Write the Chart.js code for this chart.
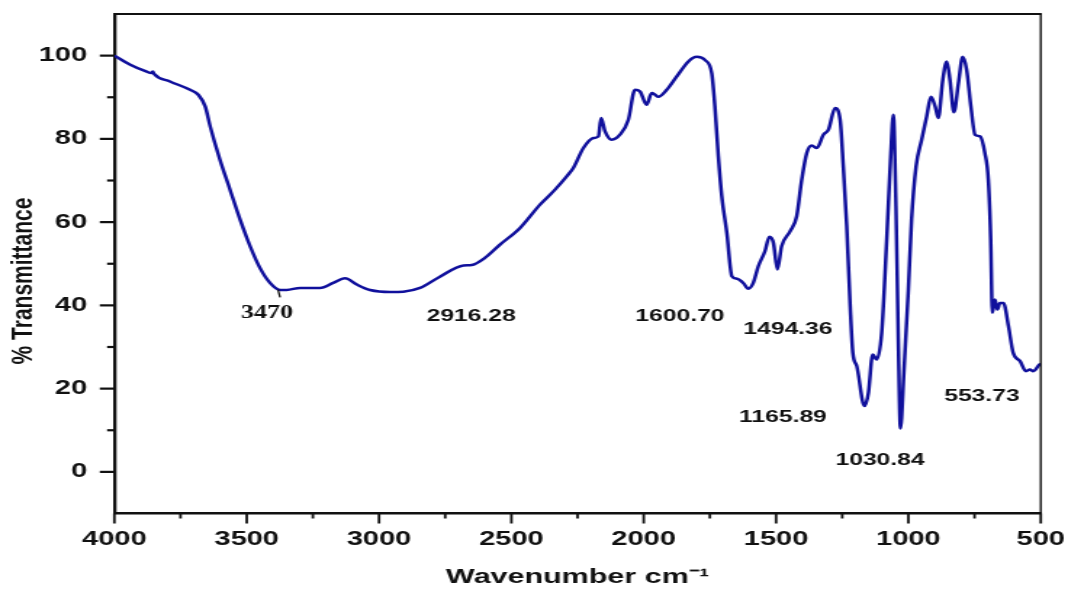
<!DOCTYPE html>
<html>
<head>
<meta charset="utf-8">
<script src="https://cdn.jsdelivr.net/npm/chart.js@4.4.1/dist/chart.umd.min.js"></script>
<style>
    html, body { margin: 0; padding: 0; background: #fff; }
</style>
</head>
<body>
<!-- drawn narrow and widened by css, like the exported figure -->
<canvas id="ftir" width="736" height="589" style="display:block;width:1068px;height:589px"></canvas>
<script>
// FT-IR spectrum, wavenumber (cm-1) against % transmittance
const wavenumbers = [
    4000, 3940, 3880, 3860, 3855, 3850, 3790, 3714, 3683, 3657, 3638, 3601, 3563, 3525, 3487,
    3450, 3412, 3374, 3349, 3298, 3223, 3173, 3128, 3084, 3034, 2958, 2908, 2845, 2770, 2681,
    2650, 2600, 2543, 2467, 2392, 2335, 2291, 2266, 2228, 2190, 2171, 2161, 2146, 2121, 2090,
    2058, 2033, 2014, 1989, 1970, 1957, 1945, 1913, 1875, 1831, 1800, 1768, 1743, 1731, 1718,
    1705, 1686, 1667, 1648, 1624, 1605, 1586, 1567, 1542, 1525, 1510, 1495, 1479, 1447, 1422,
    1403, 1384, 1365, 1346, 1321, 1302, 1277, 1258, 1246, 1233, 1220, 1210, 1195, 1166, 1151,
    1135, 1120, 1101, 1082, 1067, 1057, 1047, 1038, 1030, 1017, 1000, 988, 971, 950, 931,
    915, 899, 887, 870, 855, 843, 828, 811, 795, 780, 764, 748, 729, 711, 698,
    689, 683, 673, 664, 654, 641, 622, 604, 578, 556, 541, 528, 505, 500
];
const transmittance = [
    100, 97.8, 96.2, 95.8, 96.2, 95.6, 93.8, 91.8, 90.6, 87.8, 83.0, 75.0, 67.8, 60.6, 54.2,
    49.0, 45.4, 43.7, 43.7, 44.2, 44.2, 45.4, 46.5, 45.0, 43.7, 43.2, 43.3, 44.2, 46.9, 49.6,
    49.7, 51.4, 54.6, 58.6, 64.2, 67.8, 71.0, 73.0, 77.8, 80.2, 80.6, 85.0, 81.8, 79.8, 81.0,
    84.6, 91.8, 91.4, 88.2, 91.0, 90.6, 90.1, 91.8, 95.0, 98.6, 99.7, 98.9, 95.8, 87.8, 75.8,
    66.2, 57.4, 47.0, 46.4, 45.4, 44.0, 45.4, 49.4, 53.0, 56.5, 55.0, 48.6, 54.2, 57.8, 61.4,
    70.2, 76.6, 78.4, 77.8, 81.0, 82.2, 87.4, 84.6, 73.4, 59.0, 39.8, 28.6, 25.4, 15.8, 19.0,
    28.2, 27.0, 33.4, 55.8, 75.8, 85.8, 63.8, 31.8, 10.4, 23.8, 43.8, 60.6, 73.4, 79.8, 85.4,
    90.1, 87.8, 85.0, 94.2, 98.6, 94.2, 86.4, 93.4, 99.7, 96.6, 87.8, 81.0, 80.6, 76.6, 70.2,
    55.8, 38.2, 41.4, 39.0, 40.6, 40.6, 35.0, 28.6, 26.6, 24.2, 24.6, 24.2, 25.8, 26.0
];

const xTicks = [4000, 3500, 3000, 2500, 2000, 1500, 1000, 500];
const xMinorTicks = [3750, 3250, 2750, 2250, 1750, 1250, 750];
const yTicks = [0, 20, 40, 60, 80, 100];
const yMinorTicks = [10, 30, 50, 70, 90];

// band labels and where they sit (wavenumber, %T)
const peakLabels = ['3470', '2916.28', '1600.70', '1494.36', '1165.89', '1030.84', '553.73'];
const peakLabelX = [3423, 2652, 1863, 1455, 1474, 1107, 722];
const peakLabelY = [38.1, 37.4, 37.4, 34.2, 13.1, 2.8, 18.2];

const INK = '#111';
const LINE_BLUE = '#10109c';
const SANS = "'Liberation Sans', Arial, sans-serif";

// no extra room for end labels, the box is placed by layout.padding
const noLabelPadding = (scale) => {
    scale.paddingLeft = 0;
    scale.paddingRight = 0;
    scale.paddingTop = 0;
    scale.paddingBottom = 0;
};

// box edges, tick marks, band labels and the y title
const spectrumDecor = {
    id: 'spectrumDecor',
    afterDraw(chart) {
        const { ctx, chartArea: area, scales: { x, y } } = chart;
        ctx.save();
        ctx.strokeStyle = INK;
        ctx.lineCap = 'butt';

        ctx.lineWidth = 2.2;
        ctx.beginPath();
        ctx.moveTo(area.left, area.top);
        ctx.lineTo(area.right + 0.7, area.top);
        ctx.stroke();
        ctx.lineWidth = 1.4;
        ctx.beginPath();
        ctx.moveTo(area.right, area.top);
        ctx.lineTo(area.right, area.bottom);
        ctx.stroke();

        const tickX = (values, len) => {
            values.forEach(v => {
                const px = x.getPixelForValue(v);
                ctx.beginPath();
                ctx.moveTo(px, area.bottom);
                ctx.lineTo(px, area.bottom + len);
                ctx.stroke();
            });
        };
        const tickY = (values, len) => {
            values.forEach(v => {
                const py = y.getPixelForValue(v);
                ctx.beginPath();
                ctx.moveTo(area.left, py);
                ctx.lineTo(area.left - len, py);
                ctx.stroke();
            });
        };
        ctx.lineWidth = 1.8;
        tickX(xTicks, 10);
        tickX(xMinorTicks, 5);
        ctx.lineWidth = 2.2;
        tickY(yTicks, 10);
        tickY(yMinorTicks, 5);

        // small leader under the O-H band
        ctx.lineWidth = 1.3;
        ctx.beginPath();
        ctx.moveTo(x.getPixelForValue(3382), y.getPixelForValue(43.8));
        ctx.lineTo(x.getPixelForValue(3374), y.getPixelForValue(41.9));
        ctx.stroke();

        ctx.fillStyle = INK;
        ctx.textAlign = 'center';
        ctx.textBaseline = 'middle';
        peakLabels.forEach((text, i) => {
            ctx.font = i === 0
                ? "bold 18px 'Liberation Serif', 'Times New Roman', serif"
                : `bold 17px ${SANS}`;
            ctx.fillText(text, x.getPixelForValue(peakLabelX[i]), y.getPixelForValue(peakLabelY[i]));
        });

        ctx.translate(16, 281);
        ctx.rotate(-Math.PI / 2);
        ctx.font = `bold 21px ${SANS}`;
        ctx.fillText('% Transmittance', 0, 0);
        ctx.restore();
    }
};

const points = wavenumbers.map((w, i) => ({ x: w, y: transmittance[i] }));

new Chart(document.getElementById('ftir'), {
    type: 'line',
    data: {
        datasets: [{
            data: points,
            borderColor: LINE_BLUE,
            borderWidth: 2.5,
            pointRadius: 0,
            cubicInterpolationMode: 'monotone',
            fill: false
        }]
    },
    options: {
        responsive: false,
        devicePixelRatio: 1,
        animation: false,
        layout: { padding: { top: 14, right: 18.8, left: 0, bottom: 0 } },
        plugins: { legend: { display: false }, tooltip: { enabled: false } },
        scales: {
            x: {
                type: 'linear',
                reverse: true,
                min: 500,
                max: 4000,
                afterBuildTicks: (scale) => { scale.ticks = xTicks.map(v => ({ value: v })); },
                afterFit: (scale) => { scale.height = 75.5; noLabelPadding(scale); },
                grid: { display: true, drawOnChartArea: false, drawTicks: false },
                border: { display: true, color: INK, width: 2.5 },
                ticks: {
                    color: INK,
                    padding: 14,
                    maxRotation: 0,
                    callback: (value) => String(value),
                    font: { family: SANS, size: 20, weight: 'bold' }
                },
                title: {
                    display: true,
                    text: 'Wavenumber cm\u207B\u00B9',
                    color: INK,
                    padding: { top: 0, bottom: 1 },
                    font: { family: SANS, size: 21, weight: 'bold', lineHeight: 1 }
                }
            },
            y: {
                type: 'linear',
                min: -10,
                max: 110,
                afterBuildTicks: (scale) => { scale.ticks = yTicks.map(v => ({ value: v })); },
                afterFit: (scale) => { scale.width = 78.8; noLabelPadding(scale); },
                grid: { display: true, drawOnChartArea: false, drawTicks: false },
                border: { display: true, color: INK, width: 2.3 },
                ticks: {
                    color: INK,
                    padding: 18.8,
                    callback: (value) => String(value),
                    font: { family: SANS, size: 20, weight: 'bold' }
                }
            }
        }
    },
    plugins: [spectrumDecor]
});
</script>
</body>
</html>
